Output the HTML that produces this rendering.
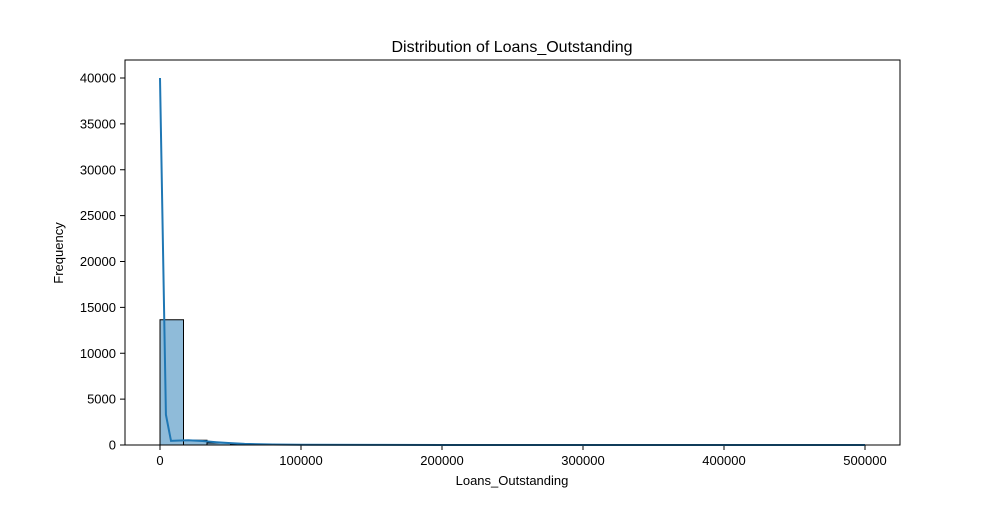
<!DOCTYPE html>
<html><head><meta charset="utf-8"><style>
body{margin:0;background:#fff;font-family:"Liberation Sans",sans-serif}
svg text{font-family:"Liberation Sans",sans-serif;fill:#000}
</style></head><body>
<svg id="chart" width="1000" height="500">
<rect width="1000" height="500" fill="#fff"/>
<text x="512" y="52" font-size="16" text-anchor="middle">Distribution of Loans_Outstanding</text>
<g id="bars"></g><g id="ticks"></g>
<path id="kde" fill="none" stroke="#1f77b4" stroke-width="2"/>
<rect x="125" y="60" width="775" height="385" fill="none" stroke="#000" stroke-width="1"/>
<text x="512" y="485" font-size="13" text-anchor="middle">Loans_Outstanding</text>
<text x="63" y="253" font-size="13" text-anchor="middle" transform="rotate(-90 63 253)">Frequency</text>
</svg>
<script>
const binCounts=[13650,520,220,90,50,30,20,12,8,5,4,3,2,2,1,1,1,1,0,0,0,0,0,0,0,0,0,0,0,1];
const binWidth=500000/30;
const kdeX=[0,4200,7800,12000,20000,30000,40000,50000,60000,80000,100000,150000,200000,300000,500000];
const kdeY=[40000,3300,450,480,520,430,300,200,120,60,30,10,4,1,0];
const xTicks=[0,100000,200000,300000,400000,500000];
const yTicks=[0,5000,10000,15000,20000,25000,30000,35000,40000];
const sx=v=>160+v*(705/500000), sy=v=>445-v*(367/40000);
const ns="http://www.w3.org/2000/svg";
const bars=document.getElementById('bars'),ticks=document.getElementById('ticks');
binCounts.forEach((c,i)=>{if(!c)return;const r=document.createElementNS(ns,'rect');
r.setAttribute('x',sx(i*binWidth));r.setAttribute('width',sx(binWidth)-sx(0));
r.setAttribute('y',sy(c));r.setAttribute('height',sy(0)-sy(c));
r.setAttribute('fill','rgba(31,119,180,0.5)');r.setAttribute('stroke','#000');r.setAttribute('stroke-width','1');


bars.appendChild(r);});
document.getElementById('kde').setAttribute('d',kdeX.map((x,i)=>(i?'L':'M')+sx(x)+','+sy(kdeY[i])).join(''));
xTicks.forEach(t=>{const l=document.createElementNS(ns,'line');l.setAttribute('x1',sx(t));l.setAttribute('x2',sx(t));l.setAttribute('y1',445);l.setAttribute('y2',450);l.setAttribute('stroke','#000');


ticks.appendChild(l);const tx=document.createElementNS(ns,'text');tx.setAttribute('x',sx(t));tx.setAttribute('y',465);tx.setAttribute('font-size','13');tx.setAttribute('text-anchor','middle');tx.textContent=t;


ticks.appendChild(tx);});
yTicks.forEach(t=>{const l=document.createElementNS(ns,'line');l.setAttribute('x1',120);l.setAttribute('x2',125);l.setAttribute('y1',sy(t));l.setAttribute('y2',sy(t));l.setAttribute('stroke','#000');


ticks.appendChild(l);const tx=document.createElementNS(ns,'text');tx.setAttribute('x',116);tx.setAttribute('y',sy(t)+4.5);tx.setAttribute('font-size','13');tx.setAttribute('text-anchor','end');tx.textContent=t;


ticks.appendChild(tx);});
</script>
</body></html>
